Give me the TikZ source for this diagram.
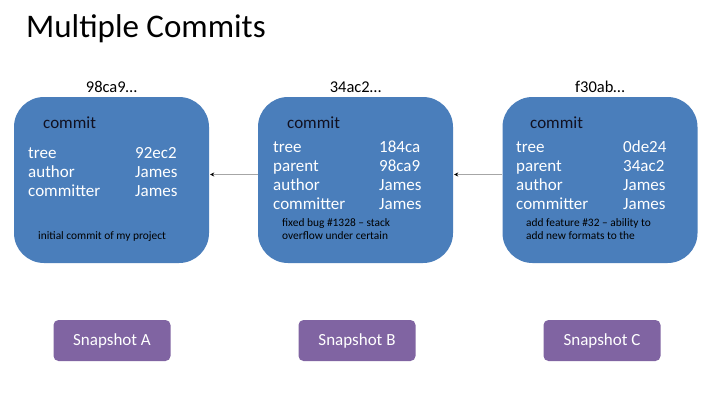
\documentclass[tikz,border=0pt]{standalone}
\usepackage{fontspec}
\setmainfont{Carlito}
\usetikzlibrary{arrows.meta}
\definecolor{boxblue}{HTML}{4A7EBB}
\definecolor{snappurple}{HTML}{8064A2}
\definecolor{conngray}{HTML}{A6A6A6}
\definecolor{darktext}{HTML}{101020}
\tikzset{
  commitbox/.style={fill=boxblue, draw=none, rounded corners=30pt, minimum width=195pt, minimum height=166pt, inner sep=0pt},
  snapbox/.style={fill=snappurple, draw=none, rounded corners=5pt, minimum width=117pt, minimum height=41pt, inner sep=0pt, text=white, font=\fontsize{17}{19}\selectfont},
  hashlabel/.style={anchor=base, inner sep=0pt, font=\fontsize{16.5}{19}\selectfont, text=black},
  headlabel/.style={anchor=base west, inner sep=0pt, font=\fontsize{17}{19}\selectfont, text=darktext},
  field/.style={anchor=base west, inner sep=0pt, font=\fontsize{17}{19}\selectfont, text=white},
  note/.style={anchor=base west, inner sep=0pt, font=\fontsize{11.4}{12.8}\selectfont, text=black, align=left},
  conn/.style={draw=conngray, line width=0.8pt, -{Stealth[length=4pt,width=4pt,color=black]}}
}
\begin{document}
\begin{tikzpicture}[x=1pt,y=-1pt]
\useasboundingbox (0,0) rectangle (711,400);
\fill[white] (0,0) rectangle (711,400);
% title
\node[anchor=base west, inner sep=0pt, font=\fontsize{33}{40}\selectfont, text=black] (title) at (26,37) {Multiple Commits};
% commit boxes
\node[commitbox] (A) at (111.5,180) {};
\node[commitbox] (B) at (355.5,180) {};
\node[commitbox] (C) at (600,180) {};
% hashes
\node[hashlabel] (hA) at (111.5,92) {98ca9…};
\node[hashlabel] (hB) at (355.5,92) {34ac2…};
\node[hashlabel] (hC) at (600,92) {f30ab…};
% box A
\node[headlabel] (cA) at (43,128) {commit};
\node[field] (tA) at (28,158) {tree};
\node[field] (aA) at (28,177) {author};
\node[field] (mA) at (28,196) {committer};
\node[field] (tvA) at (135,158) {92ec2};
\node[field] (avA) at (135,177) {James};
\node[field] (mvA) at (135,196) {James};
\node[note] (nA) at (38,239) {initial commit of my project};
% box B
\node[headlabel] (cB) at (287,128) {commit};
\node[field] (tB) at (273,152) {tree};
\node[field] (pB) at (273,171) {parent};
\node[field] (aB) at (273,190) {author};
\node[field] (mB) at (273,209) {committer};
\node[field] (tvB) at (379,152) {184ca};
\node[field] (pvB) at (379,171) {98ca9};
\node[field] (avB) at (379,190) {James};
\node[field] (mvB) at (379,209) {James};
\node[note] (nB) at (282,239) {fixed bug \#1328 – stack\\overflow under certain};
% box C
\node[headlabel] (cC) at (530,128) {commit};
\node[field] (tC) at (516,152) {tree};
\node[field] (pC) at (516,171) {parent};
\node[field] (aC) at (516,190) {author};
\node[field] (mC) at (516,209) {committer};
\node[field] (tvC) at (623,152) {0de24};
\node[field] (pvC) at (623,171) {34ac2};
\node[field] (avC) at (623,190) {James};
\node[field] (mvC) at (623,209) {James};
\node[note] (nC) at (526,239) {add feature \#32 – ability to\\add new formats to the};
% connectors
\draw[conn] ([yshift=5.5pt]B.west) -- ([yshift=5.5pt,xshift=1pt]A.east);
\draw[conn] ([yshift=5.5pt]C.west) -- ([yshift=5.5pt,xshift=1pt]B.east);
% snapshots
\node[snapbox] (sA) at (112,340.5) {Snapshot A};
\node[snapbox] (sB) at (357,340.5) {Snapshot B};
\node[snapbox] (sC) at (602,340.5) {Snapshot C};
\end{tikzpicture}
\end{document}
